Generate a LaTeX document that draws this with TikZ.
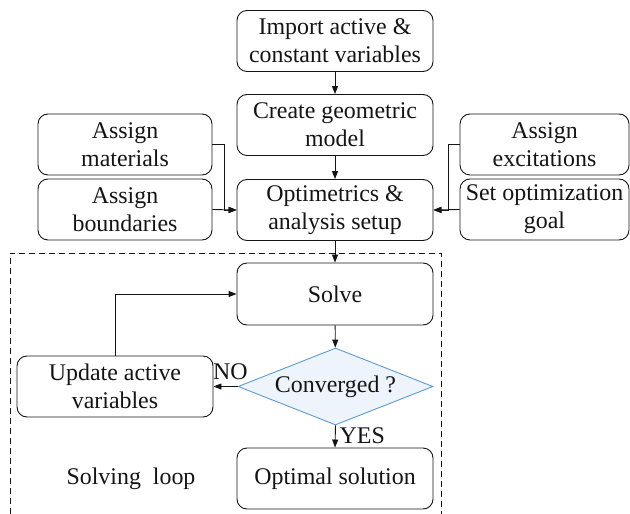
\documentclass[tikz,border=0pt]{standalone}
\usepackage{fontspec}
\setmainfont{Liberation Serif}
\usepackage{xcolor}
\usetikzlibrary{positioning,arrows.meta,shapes.geometric}
\definecolor{ink}{HTML}{141414}
\definecolor{dBlue}{HTML}{5B9BD5}
\definecolor{dFill}{HTML}{EEF4FB}
\tikzset{
  lbl/.style={font=\fontsize{24}{28}\selectfont, text=ink, inner sep=0pt},
}
\begin{document}
\begin{tikzpicture}[x=1bp, y=-1bp,
  box/.style={rectangle, rounded corners=10bp, draw=ink, line width=0.9pt, minimum width=196bp, minimum height=61bp, inner sep=1bp, align=center, font=\fontsize{24}{28}\selectfont, text=ink},
  side/.style={box, minimum width=172bp},
  dec/.style={diamond, draw=dBlue, fill=dFill, line width=0.9pt, aspect=2.53, minimum width=195bp, minimum height=77bp, inner sep=0pt, font=\fontsize{24}{28}\selectfont, text=ink},
  arr/.style={-{Triangle[length=8bp, width=6bp]}, line width=0.9pt, ink}]
\useasboundingbox (0,0) rectangle (630,514);
\node[box] (imp) at (335,41) {Import active \&\\constant variables};
\node[box] (geo) at (335,125) {Create geometric\\model};
\node[box] (setup) at (335,210) {Optimetrics \&\\analysis setup};
\node[side, minimum width=174bp] (mat) at (125,144.5) {Assign\\materials};
\node[side, minimum width=174bp] (bnd) at (125,209.5) {Assign\\boundaries};
\node[side, minimum width=169bp] (exc) at (544.5,144.5) {Assign\\excitations};
\node[side, minimum width=169bp] (goal) at (544.5,209.5) {Set optimization\\goal};
\node[box, minimum height=62bp] (solve) at (335,294) {Solve};
\node[dec] (conv) at (335.5,386.5) {Converged ?};
\node[box] (upd) at (115,386.5) {Update active\\variables};
\node[box] (opt) at (335,478.5) {Optimal solution};
\node[lbl] (loop) at (131,479) {Solving~~loop};
% loop frame, open at the bottom
\draw[ink, line width=0.9pt, dash pattern=on 6bp off 4bp] (10,514) -- (10,253) -- (441,253) -- (441,514);
\draw[arr] (imp) -- (geo);
\draw[arr] (geo) -- (setup);
\draw[arr] (mat.east) -- ++(12,0) |- (setup.west);
\draw[arr] (bnd.east) -- (setup.west);
\draw[arr] (exc.west) -- ++(-11,0) |- (setup.east);
\draw[arr] (goal.west) -- (setup.east);
\draw[arr] (setup) -- (solve);
\draw[arr] (solve) -- (conv);
\draw[arr] (conv.west) -- node[lbl, above=6bp, pos=0.3] {NO} (upd.east);
\draw[arr] (conv.south) -- node[lbl, right=4bp, pos=0.45] {YES} (opt.north);
\draw[arr] (upd.north) |- (solve.west);
\end{tikzpicture}
\end{document}
